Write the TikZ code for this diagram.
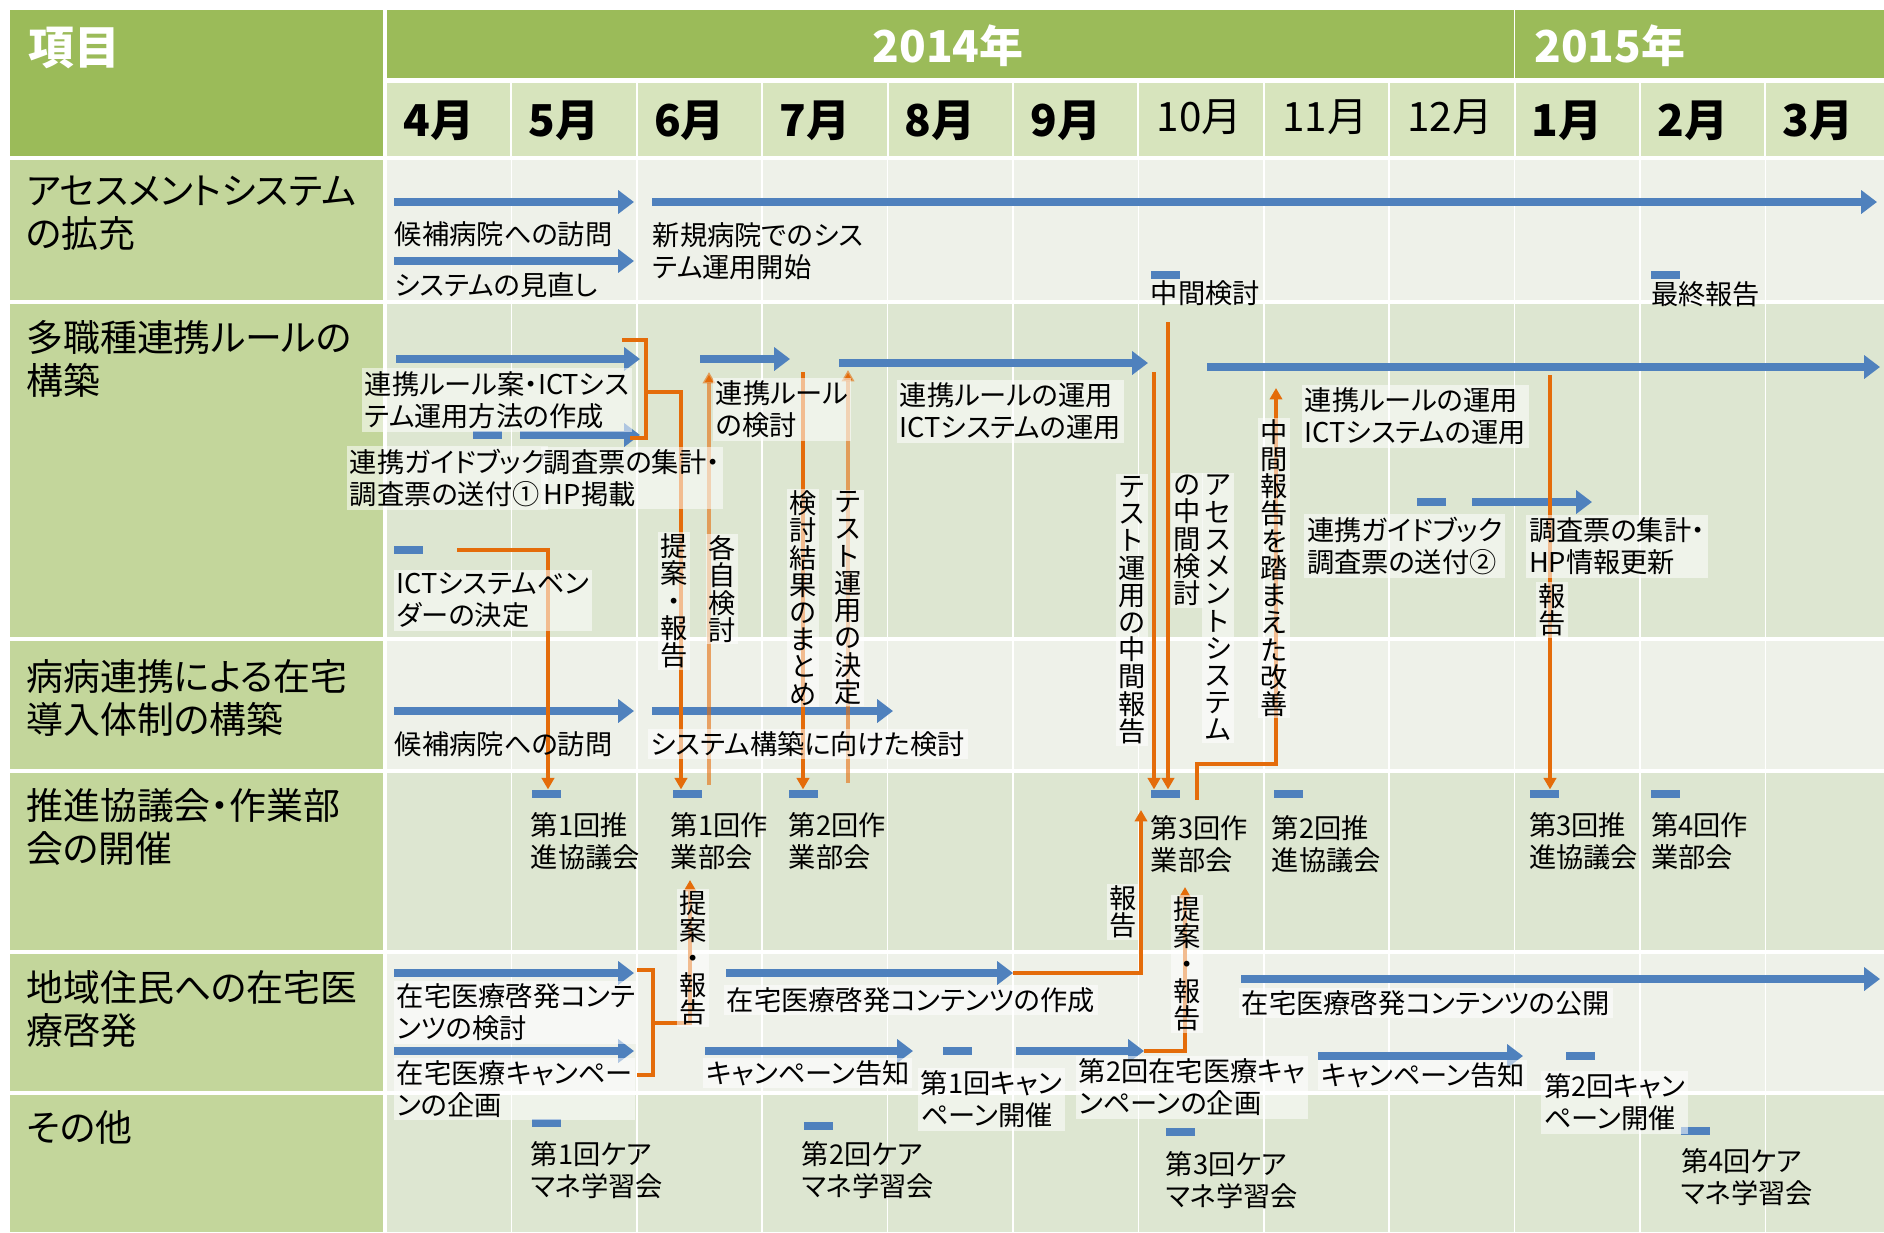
\documentclass[tikz,border=0pt]{standalone}
\usepackage{fontspec}
\setmainfont{Noto Sans CJK JP}[RawFeature=+palt]
\usetikzlibrary{arrows.meta}
\definecolor{hdrgreen}{HTML}{9BBB59}
\definecolor{leftgreen}{HTML}{C3D69B}
\definecolor{monthgreen}{HTML}{D7E4BD}
\definecolor{rowlight}{HTML}{EEF1E9}
\definecolor{rowdark}{HTML}{DDE6D1}
\definecolor{barblue}{HTML}{4F81BD}
\definecolor{lineorange}{HTML}{E46C0A}

\begin{document}
\begin{tikzpicture}[x=0.02cm,y=-0.02cm,
  task/.style={draw=barblue,line width=4.5pt,-{Triangle[length=9pt,width=13pt]}},
  pointbar/.style={fill=barblue,minimum width=0.58cm,minimum height=0.17cm,inner sep=0pt},
  link/.style={draw=lineorange,line width=2.6pt},
  linkto/.style={link,-{Triangle[length=6.5pt,width=7pt]}},
  pale/.style={draw opacity=0.6},
  txt/.style={font=\fontsize{15.5}{18.5}\selectfont,align=left,anchor=west,inner sep=1.5pt},
  boxtxt/.style={txt,fill=white,fill opacity=0.55,text opacity=1},
  vtxt/.style={font=\fontsize{15.5}{15.5}\selectfont,align=center,text width=16pt,inner sep=1pt,fill=white,fill opacity=0.55,text opacity=1},
  rowtxt/.style={font=\fontsize{21}{24.5}\selectfont,align=left,anchor=west,inner sep=0pt},
  monthtxt/.style={font=\fontsize{25}{25}\selectfont\bfseries,anchor=west,inner sep=0pt},
  yeartxt/.style={font=\fontsize{25}{25}\selectfont\bfseries,text=white,inner sep=0pt}]
\useasboundingbox (0,0) rectangle (1884,1232);
\fill[white] (0,0) rectangle (1884,1232);

\fill[hdrgreen] (10,10) rectangle (383,156);
\fill[hdrgreen] (387,10) rectangle (1884,78);
\draw[white,line width=1pt] (1514.6,10) -- (1514.6,78);
\foreach \i in {0,...,11}
  \fill[monthgreen] ({387+125.4*\i},83) rectangle ({385+125.4*(\i+1)},156);
\foreach \a/\b/\c in {160/300/rowlight,304/637/rowdark,641/769/rowlight,773/950/rowdark,954/1091/rowlight,1095/1232/rowdark}{
  \fill[leftgreen] (10,\a) rectangle (383,\b);
  \fill[\c] (387,\a) rectangle (1884,\b);
}
\foreach \i in {1,...,11}
  \draw[white,line width=1pt] ({386+125.4*\i},160) -- ({386+125.4*\i},1232);

\node[font=\fontsize{26}{26}\selectfont\bfseries,text=white,anchor=west,inner sep=0pt] (item) at (28,48) {項目};
\node[yeartxt] (y2014) at (948,46) {2014年};
\node[yeartxt,anchor=west] (y2015) at (1534,46) {2015年};
\foreach \m [count=\i from 0] in {4,5,6,7,8,9}
  \node[monthtxt] (mon\m) at ({386+125.4*\i+17},121) {\m 月};
\foreach \m [count=\i from 6] in {10,11,12}
  \node[monthtxt,font=\fontsize{23}{23}\selectfont] (mon\m) at ({386+125.4*\i+18},117) {\m 月};
\foreach \m [count=\i from 9] in {1,2,3}
  \node[monthtxt] (mon\m) at ({386+125.4*\i+17},121) {\m 月};

\draw[task] (394,202) -- (634,202);
\draw[task] (652,202) -- (1877,202);
\draw[task] (394,261) -- (634,261);
\node[pointbar] (midcheck) at (1165,275) {};
\node[pointbar] (finalrep) at (1665,275) {};

\draw[task] (396,359) -- (640,359);
\node[pointbar] (guide1) at (487,435) {};
\draw[task] (520,435) -- (640,435);
\node[pointbar] (vendor) at (408,550) {};
\draw[task] (700,359) -- (790,359);
\draw[task] (839,363) -- (1148,363);
\draw[task] (1207,367) -- (1880,367);
\node[pointbar] (guide2) at (1431,502) {};
\draw[task] (1472,502) -- (1592,502);

\draw[task] (394,711) -- (634,711);
\draw[task] (652,711) -- (893,711);

\node[pointbar] (sui1) at (546,794) {};
\node[pointbar] (saku1) at (687,794) {};
\node[pointbar] (saku2) at (803,794) {};
\node[pointbar] (saku3) at (1165,794) {};
\node[pointbar] (sui2) at (1288,794) {};
\node[pointbar] (sui3) at (1544,794) {};
\node[pointbar] (saku4) at (1665,794) {};

\draw[task] (394,973) -- (634,973);
\draw[task] (394,1051) -- (634,1051);
\draw[task] (726,973) -- (1013,973);
\draw[task] (705,1051) -- (913,1051);
\node[pointbar] (camp1) at (957,1051) {};
\draw[task] (1016,1051) -- (1144,1051);
\draw[task] (1241,979) -- (1880,979);
\draw[task] (1318,1056) -- (1523,1056);
\node[pointbar] (camp2) at (1580,1056) {};

\node[pointbar] (care1) at (546,1123) {};
\node[pointbar] (care2) at (818,1126) {};
\node[pointbar] (care3) at (1180,1132) {};
\node[pointbar] (care4) at (1695,1131) {};

\draw[link] (622,340) -- (646,340) -- (646,438) -- (630,438);
\draw[linkto] (646,392) -- (681,392) -- (681,0 |- saku1.north);
\draw[linkto] (457,550) -- (548,550) -- (548,0 |- sui1.north);
\draw[linkto,pale] (709,785) -- (709,372);
\draw[linkto] (803,372) -- (saku2.north);
\draw[linkto,pale] (848,783) -- (848,370);
\draw[linkto] (1154,372) -- (1154,0 |- saku3.north);
\draw[linkto] (1168,322) -- (1168,0 |- saku3.north);
\draw[linkto] (1197,800) -- (1197,764) -- (1276,764) -- (1276,388);
\draw[linkto] (1550,375) -- (1550,0 |- sui3.north);
\draw[link] (637,970) -- (653,970) -- (653,1075) -- (637,1075);
\draw[linkto] (653,1023) -- (690,1023) -- (690,880);
\draw[linkto] (1013,973) -- (1141,973) -- (1141,810);
\draw[linkto] (1144,1051) -- (1185,1051) -- (1185,887);

\node[rowtxt] (rowAssess) at (26,213) {アセスメントシステム\\の拡充};
\node[txt] (tVisitA) at (392,234) {候補病院への訪問};
\node[txt] (tReview) at (392,285) {システムの見直し};
\node[txt] (tStart) at (650,251) {新規病院でのシス\\テム運用開始};
\node[txt] (tMid) at (1148,293) {中間検討};
\node[txt] (tFinal) at (1648,294) {最終報告};

\node[rowtxt] (rowRule) at (26,359) {多職種連携ルールの\\構築};
\node[boxtxt] (tDraft) at (362,400) {連携ルール案・ICTシス\\テム運用方法の作成};
\node[boxtxt] (tGuide1) at (347,478) {連携ガイドブック\\調査票の送付①};
\node[boxtxt] (tSum1) at (541,478) {調査票の集計・\\HP掲載};
\node[boxtxt] (tVendor) at (394,600) {ICTシステムベン\\ダーの決定};
\node[boxtxt] (tStudy) at (713,409) {連携ルール\\の検討};
\node[boxtxt] (tUse1) at (897,411) {連携ルールの運用\\ICTシステムの運用};
\node[boxtxt] (tUse2) at (1302,416) {連携ルールの運用\\ICTシステムの運用};
\node[boxtxt] (tGuide2) at (1304,546) {連携ガイドブック\\調査票の送付②};
\node[boxtxt] (tSum2) at (1526,546) {調査票の集計・\\HP情報更新};
\node[vtxt] (vProp1) at (674,601) {提\\案\\・\\報\\告};
\node[vtxt] (vEach) at (722,589) {各\\自\\検\\討};
\node[vtxt] (vSumUp) at (803,598) {検\\討\\結\\果\\の\\ま\\と\\め};
\node[vtxt] (vTest) at (848,598) {テ\\ス\\ト\\運\\用\\の\\決\\定};
\node[vtxt] (vTestRep) at (1132,610) {テ\\ス\\ト\\運\\用\\の\\中\\間\\報\\告};
\node[vtxt,anchor=north] (vAssessA) at (1218,473) {ア\\セ\\ス\\メ\\ン\\ト\\シ\\ス\\テ\\ム};
\node[vtxt,anchor=north] (vAssessB) at (1187,473) {の\\中\\間\\検\\討};
\node[vtxt] (vImprove) at (1274,568) {中\\間\\報\\告\\を\\踏\\ま\\え\\た\\改\\善};
\node[vtxt] (vRep1) at (1552,610) {報\\告};

\node[rowtxt] (rowHosp) at (26,698) {病病連携による在宅\\導入体制の構築};
\node[txt] (tVisitB) at (392,744) {候補病院への訪問};
\node[boxtxt] (tBuild) at (648,744) {システム構築に向けた検討};

\node[rowtxt] (rowMeet) at (26,827) {推進協議会・作業部\\会の開催};
\node[txt] (tSui1) at (528,841) {第1回推\\進協議会};
\node[txt] (tSaku1) at (668,841) {第1回作\\業部会};
\node[txt] (tSaku2) at (786,841) {第2回作\\業部会};
\node[txt] (tSaku3) at (1148,844) {第3回作\\業部会};
\node[txt] (tSui2) at (1269,844) {第2回推\\進協議会};
\node[txt] (tSui3) at (1526,841) {第3回推\\進協議会};
\node[txt] (tSaku4) at (1648,841) {第4回作\\業部会};
\node[vtxt] (vProp2) at (693,958) {提\\案\\・\\報\\告};
\node[vtxt] (vRep2) at (1123,912) {報\\告};
\node[vtxt] (vProp3) at (1187,964) {提\\案\\・\\報\\告};

\node[rowtxt] (rowPub) at (26,1009) {地域住民への在宅医\\療啓発};
\node[boxtxt] (tContA) at (394,1012) {在宅医療啓発コンテ\\ンツの検討};
\node[boxtxt] (tCampA) at (394,1089) {在宅医療キャンペー\\ンの企画};
\node[boxtxt] (tMake) at (724,1000) {在宅医療啓発コンテンツの作成};
\node[boxtxt] (tNoticeA) at (703,1073) {キャンペーン告知};
\node[boxtxt] (tCamp1) at (918,1099) {第1回キャン\\ペーン開催};
\node[boxtxt] (tCampB) at (1076,1087) {第2回在宅医療キャ\\ンペーンの企画};
\node[boxtxt] (tOpen) at (1239,1003) {在宅医療啓発コンテンツの公開};
\node[boxtxt] (tNoticeB) at (1318,1075) {キャンペーン告知};
\node[boxtxt] (tCamp2) at (1541,1102) {第2回キャン\\ペーン開催};

\node[rowtxt] (rowOther) at (26,1127) {その他};
\node[txt] (tCare1) at (528,1170) {第1回ケア\\マネ学習会};
\node[txt] (tCare2) at (799,1170) {第2回ケア\\マネ学習会};
\node[txt] (tCare3) at (1163,1180) {第3回ケア\\マネ学習会};
\node[txt] (tCare4) at (1678,1177) {第4回ケア\\マネ学習会};
\end{tikzpicture}
\end{document}
